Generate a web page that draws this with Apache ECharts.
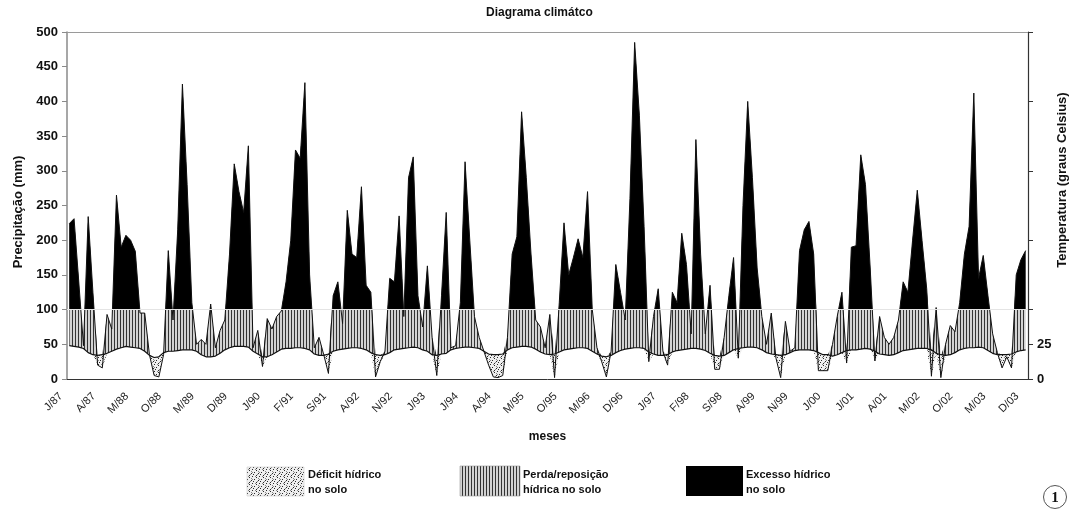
<!DOCTYPE html>
<html><head><meta charset="utf-8">
<script src="https://cdn.jsdelivr.net/npm/echarts@6/dist/echarts.min.js"></script>
<style>html,body{margin:0;padding:0;background:#fff}#c{width:1069px;height:518px}</style>
</head><body><div id="c"></div>
<script>
// ---- data ----
const monthInitials = ['J','F','M','A','M','J','J','A','S','O','N','D'];
const yearLabels = ['87','88','89','90','91','92','93','94','95','96','97','98','99','00','01','02','03'];
// monthly precipitation (mm), Jan/1987 .. Dec/2003
const precipitation = [
 224,231,140,48,234,125,20,16,93,72,265,190,
 207,200,184,95,95,35,5,3,35,185,85,215,
 425,280,110,50,57,50,108,45,70,85,180,310,
 270,240,336,45,70,18,87,72,90,98,140,200,
 330,318,427,150,45,60,35,8,120,140,80,243,
 180,175,277,135,125,3,25,40,145,140,235,90,
 290,320,120,75,163,60,5,120,240,45,48,110,
 313,200,90,60,40,20,3,2,5,60,180,205,
 385,290,180,85,75,45,93,2,110,225,150,175,
 202,175,270,100,45,25,3,40,165,125,85,260,
 485,380,220,25,90,130,40,20,125,110,210,165,
 65,345,180,65,135,14,14,60,120,175,30,250,
 400,290,160,90,50,95,30,2,83,40,45,185,
 215,227,180,12,12,12,50,90,125,23,190,192,
 323,280,160,26,90,60,50,60,85,140,125,200,
 272,200,130,4,103,2,50,77,68,110,180,220,
 412,145,178,120,65,38,16,32,16,150,172,185
];
// monthly mean temperature (graus Celsius)
const temperature = [
 24,23.5,23,22,19,17.5,17,17.5,18.5,20,21.5,22.5,
 23.5,23,22.5,22,20,17,15.5,16,19,20,20,20.5,
 21,21,21,20,17.5,16,16,16.5,18.5,21,22.5,23.5,
 23.5,23.5,23,20,18,16,16,17.5,19.5,21.5,22,22,
 22.5,22.5,22,21,18,17,17,18,20,21,21.5,22,
 22.5,22.5,22,21,19,17.5,17,17.5,19,21,21.5,22,
 22.5,23,22.5,21,20,17.5,17,18,18.5,21,22,22.5,
 23,23,22.5,22,20,18,17.5,17.5,18,21,22.5,23,
 23.5,23.5,23,21.5,19.5,18,17.5,18,19.5,21,21.5,22,
 22.5,22.5,22,20,18,16.5,16,17,19,20.5,21.5,22,
 22.5,22.5,22,19.5,18,17,17,17.5,19.5,20.5,21,21.5,
 22,22,21.5,20.5,18.5,17,16.5,17,19,21,22,22.5,
 23,23,22.5,21,19,18,17.5,17,17.5,19,20.5,21,
 21,21,20.5,19,17.5,17.5,16.5,17.5,19,20.5,21,21,
 21.5,22,21.5,20,18,17.5,17,17.5,19,20.5,21,21.5,
 22,22,22,21,18.5,17.5,17,17.5,19,21,22,22.5,
 22.5,23,22.5,20.5,18.5,17.5,17.5,17.5,18,19.5,20.5,21
];
const precipTicks = [0,50,100,150,200,250,300,350,400,450,500];
const tempTickValues = [0,25,50,100,150,200,250];
const tempTickLabels = [0,25];
const excessThreshold = 100;

// ---- derived ----
const categories = [];
yearLabels.forEach(y => monthInitials.forEach(m => categories.push(m + '/' + y)));
const tempMM = temperature.map(t => t * 2);          // 1 C = 2 mm
const baseBand = precipitation.map((p, i) => Math.min(p, tempMM[i]));
const deficitBand = precipitation.map((p, i) => Math.max(tempMM[i] - p, 0));
const humidBand = precipitation.map((p, i) => Math.max(p - tempMM[i], 0));

function stripePattern() {
  const c = document.createElement('canvas'); c.width = 3; c.height = 4;
  const g = c.getContext('2d');
  g.fillStyle = '#d2d2d2'; g.fillRect(0, 0, 3, 4);
  g.fillStyle = '#333333'; g.fillRect(0, 0, 1, 4);
  return c;
}
function dotPattern() {
  const c = document.createElement('canvas'); c.width = 7; c.height = 7;
  const g = c.getContext('2d');
  g.fillStyle = '#efefef'; g.fillRect(0, 0, 7, 7);
  g.fillStyle = '#2a2a2a';
  [[0,0],[4,1],[2,3],[6,4],[1,5],[4,6]].forEach(p => g.fillRect(p[0], p[1], 1, 1));
  g.fillStyle = '#888';
  [[3,0],[6,2],[0,3],[5,5]].forEach(p => g.fillRect(p[0], p[1], 1, 1));
  return c;
}
const stripes = stripePattern();
const dots = dotPattern();

const FONT = '"Liberation Sans", Arial, sans-serif';
const W = 1069, H = 518;
const chart = echarts.init(document.getElementById('c'), null, {renderer: 'canvas', width: W, height: H});

const noLine = {opacity: 0, width: 0};
const option = {
  animation: false,
  backgroundColor: '#ffffff',
  textStyle: {fontFamily: FONT},
  title: {
    text: 'Diagrama climátco', left: 486, top: 7, padding: 0,
    textStyle: {fontSize: 12, fontWeight: 'bold', color: '#111', fontFamily: FONT}
  },
  grid: {left: 67, right: 41, top: 32, bottom: 139},
  xAxis: [
    {
      type: 'category', data: categories, boundaryGap: true, position: 'bottom',
      axisLine: {onZero: false, lineStyle: {color: '#333', width: 1}},
      axisTick: {interval: 0, length: 4, lineStyle: {color: '#333'}},
      axisLabel: {interval: 6, rotate: 45, fontSize: 11, color: '#222', margin: 7, padding: [0, 12, 0, 0], fontFamily: FONT},
      name: 'meses', nameLocation: 'middle', nameGap: 52,
      nameTextStyle: {fontWeight: 'bold', fontSize: 12, color: '#111', fontFamily: FONT},
      splitLine: {show: false}
    },
    {
      type: 'category', data: categories, boundaryGap: true, position: 'bottom',
      axisLine: {show: false, onZero: false},
      axisTick: {interval: 0, inside: true, length: 4, lineStyle: {color: '#333'}},
      axisLabel: {show: false}, splitLine: {show: false}
    },
    {
      type: 'category', data: categories, boundaryGap: true, position: 'top',
      axisLine: {show: true, onZero: false, lineStyle: {color: '#9a9a9a', width: 1.2}},
      axisTick: {show: false}, axisLabel: {show: false}, splitLine: {show: false}
    }
  ],
  yAxis: [
    {
      type: 'value', min: 0, max: 500, interval: 50, position: 'left',
      axisLine: {show: true, lineStyle: {color: '#8a8a8a', width: 1.5}},
      axisTick: {show: true, length: 5, lineStyle: {color: '#8a8a8a'}},
      axisLabel: {fontSize: 13, fontWeight: 'bold', color: '#111', margin: 9, fontFamily: FONT},
      splitLine: {show: false}
    },
    {
      type: 'value', min: 0, max: 250, position: 'right',
      axisLine: {show: true, lineStyle: {color: '#333', width: 1.2}},
      axisTick: {show: true, length: 5, lineStyle: {color: '#333'}, customValues: tempTickValues},
      axisLabel: {customValues: tempTickLabels, fontSize: 13, fontWeight: 'bold', color: '#111', margin: 9, fontFamily: FONT},
      splitLine: {show: false}
    }
  ],
  series: [
    {name: 'base', type: 'line', stack: 'w', data: baseBand, symbol: 'none', lineStyle: noLine, silent: true, z: 1,
     markLine: {silent: true, symbol: 'none', label: {show: false}, lineStyle: {color: '#e4e4e4', width: 1, type: 'solid'}, data: [{yAxis: excessThreshold}]}},
    {name: 'Déficit hídrico no solo', type: 'line', stack: 'w', data: deficitBand, symbol: 'none', lineStyle: noLine, silent: true, z: 2,
     areaStyle: {color: {image: dots, repeat: 'repeat'}, opacity: 1}},
    {name: 'Perda/reposição hídrica no solo', type: 'line', stack: 'w', data: humidBand, symbol: 'none', lineStyle: noLine, silent: true, z: 2,
     areaStyle: {color: {image: stripes, repeat: 'repeat'}, opacity: 1}},
    {id: 'excess', name: 'Excesso hídrico no solo', type: 'line', data: precipitation, symbol: 'none', lineStyle: noLine, silent: true, z: 3,
     areaStyle: {color: 'rgba(0,0,0,0)', opacity: 1}},
    {name: 'Precipitação', type: 'line', data: precipitation, symbol: 'none', silent: true, z: 4,
     lineStyle: {color: '#111', width: 1}},
    {name: 'Temperatura', type: 'line', yAxisIndex: 1, data: temperature, symbol: 'none', silent: true, z: 5,
     lineStyle: {color: '#111', width: 1.2}}
  ],
  graphic: [
    {type: 'text', x: 18, y: 212, rotation: Math.PI / 2,
     style: {text: 'Precipitação (mm)', font: 'bold 13px ' + FONT, fill: '#111', align: 'center', verticalAlign: 'middle', textAlign: 'center', textVerticalAlign: 'middle'}},
    {type: 'text', x: 1062, y: 180, rotation: Math.PI / 2,
     style: {text: 'Temperatura (graus Celsius)', font: 'bold 13px ' + FONT, fill: '#111', align: 'center', verticalAlign: 'middle', textAlign: 'center', textVerticalAlign: 'middle'}},
    {type: 'rect', shape: {x: 247, y: 467, width: 57, height: 29}, style: {fill: {image: dots, repeat: 'repeat'}, stroke: '#cfcfcf', lineWidth: 0.6}},
    {type: 'text', x: 308, y: 475, style: {text: 'Déficit hídrico', font: 'bold 11px ' + FONT, fill: '#111', verticalAlign: 'middle', textVerticalAlign: 'middle'}},
    {type: 'text', x: 308, y: 490, style: {text: 'no solo', font: 'bold 11px ' + FONT, fill: '#111', verticalAlign: 'middle', textVerticalAlign: 'middle'}},
    {type: 'rect', shape: {x: 460, y: 466, width: 60, height: 30}, style: {fill: {image: stripes, repeat: 'repeat'}, stroke: '#999', lineWidth: 0.6}},
    {type: 'text', x: 523, y: 475, style: {text: 'Perda/reposição', font: 'bold 11px ' + FONT, fill: '#111', verticalAlign: 'middle', textVerticalAlign: 'middle'}},
    {type: 'text', x: 523, y: 490, style: {text: 'hídrica no solo', font: 'bold 11px ' + FONT, fill: '#111', verticalAlign: 'middle', textVerticalAlign: 'middle'}},
    {type: 'rect', shape: {x: 686, y: 466, width: 57, height: 30}, style: {fill: '#000'}},
    {type: 'text', x: 746, y: 475, style: {text: 'Excesso hídrico', font: 'bold 11px ' + FONT, fill: '#111', verticalAlign: 'middle', textVerticalAlign: 'middle'}},
    {type: 'text', x: 746, y: 490, style: {text: 'no solo', font: 'bold 11px ' + FONT, fill: '#111', verticalAlign: 'middle', textVerticalAlign: 'middle'}},
    {type: 'circle', shape: {cx: 1055, cy: 497, r: 11.5}, style: {fill: '#fff', stroke: '#555', lineWidth: 1}},
    {type: 'text', x: 1055, y: 498, style: {text: '1', font: 'bold 15px "Liberation Serif", "Times New Roman", serif', fill: '#111', align: 'center', verticalAlign: 'middle', textAlign: 'center', textVerticalAlign: 'middle'}}
  ]
};
chart.setOption(option);

// Excess area: fill under the precipitation curve only above the threshold,
// using the pixel position of the threshold given by the library's own y scale.
const yThr = chart.convertToPixel({yAxisIndex: 0}, excessThreshold);
const stop = Math.min(Math.max(yThr / H, 0), 1);
chart.setOption({
  series: [{
    id: 'excess',
    areaStyle: {
      opacity: 1,
      color: {
        type: 'linear', x: 0, y: 0, x2: 0, y2: H, global: true,
        colorStops: [
          {offset: 0, color: '#000000'},
          {offset: stop, color: '#000000'},
          {offset: stop, color: 'rgba(0,0,0,0)'},
          {offset: 1, color: 'rgba(0,0,0,0)'}
        ]
      }
    }
  }]
});
</script>
</body></html>
